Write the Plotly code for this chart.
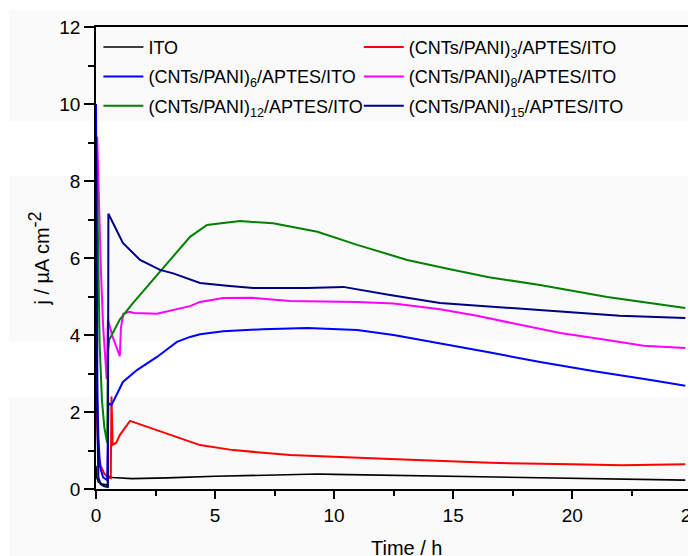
import plotly.graph_objects as go

# ---- data (time in h, current density in µA cm^-2) ----
ito_t = [0.0, 0.03, 0.1, 0.3, 0.48, 0.5, 0.7, 1.5, 3.0, 3.95, 5.0, 8.0, 9.3, 10.0, 12.0, 15.0, 17.3, 20.0, 22.0, 24.75]
ito_j = [0.6, 0.3, 0.18, 0.12, 0.1, 0.33, 0.3, 0.27, 0.29, 0.31, 0.33, 0.37, 0.39, 0.38, 0.36, 0.34, 0.31, 0.29, 0.26, 0.23]

c3_t = [0.0, 0.05, 0.1, 0.2, 0.35, 0.5, 0.62, 0.65, 0.7, 0.85, 1.0, 1.43, 2.0, 2.56, 3.95, 4.37, 5.76, 8.15, 12.35, 16.55, 20.0, 22.1, 24.75]
c3_j = [2.5, 1.5, 0.9, 0.6, 0.4, 0.3, 0.28, 2.4, 1.15, 1.2, 1.4, 1.77, 1.65, 1.53, 1.22, 1.14, 1.01, 0.88, 0.78, 0.68, 0.64, 0.62, 0.64]

c6_t = [0.0, 0.03, 0.06, 0.1, 0.17, 0.3, 0.47, 0.52, 0.65, 1.13, 1.72, 2.56, 3.4, 3.95, 4.37, 5.34, 7.0, 8.87, 10.97, 12.5, 14.45, 16.5, 18.65, 21.0, 23.3, 24.75]
c6_j = [10.0, 5.0, 2.5, 1.35, 0.57, 0.3, 0.23, 2.23, 2.18, 2.78, 3.09, 3.43, 3.82, 3.95, 4.02, 4.1, 4.15, 4.18, 4.13, 4.0, 3.79, 3.55, 3.3, 3.05, 2.83, 2.68]

c8_t = [0.05, 0.12, 0.2, 0.3, 0.45, 0.5, 0.7, 1.0, 1.05, 1.15, 1.4, 1.6, 2.56, 3.95, 4.37, 5.34, 6.5, 8.15, 10.97, 12.5, 14.45, 16.0, 17.94, 19.5, 21.47, 23.0, 24.75]
c8_j = [9.15, 7.5, 5.8, 4.2, 2.85, 4.4, 3.95, 3.45, 4.2, 4.55, 4.6, 4.57, 4.55, 4.75, 4.86, 4.96, 4.97, 4.88, 4.86, 4.82, 4.67, 4.5, 4.26, 4.05, 3.87, 3.72, 3.66]

c12_t = [0.02, 0.08, 0.15, 0.25, 0.35, 0.47, 0.5, 0.55, 1.0, 1.55, 2.56, 3.1, 3.95, 4.66, 6.05, 7.44, 9.3, 10.97, 13.07, 14.87, 16.5, 18.65, 21.47, 24.75]
c12_j = [9.15, 6.0, 3.8, 2.3, 1.6, 1.2, 3.56, 3.87, 4.4, 4.83, 5.56, 5.95, 6.55, 6.86, 6.96, 6.9, 6.68, 6.34, 5.95, 5.71, 5.5, 5.3, 4.99, 4.7]

c15_t = [0.0, 0.05, 0.1, 0.2, 0.35, 0.5, 0.52, 1.13, 1.85, 2.69, 3.24, 3.95, 4.37, 5.5, 6.6, 8.87, 10.38, 12.35, 14.45, 16.5, 18.65, 22.0, 24.75]
c15_j = [9.2, 2.0, 0.3, 0.12, 0.07, 0.05, 7.15, 6.39, 5.95, 5.69, 5.6, 5.43, 5.35, 5.28, 5.22, 5.22, 5.25, 5.04, 4.83, 4.74, 4.65, 4.5, 4.44]

series = [
    ("ITO", ito_t, ito_j, "#000000", 1.6, "legend"),
    ("(CNTs/PANI)<sub>3</sub>/APTES/ITO", c3_t, c3_j, "#ff0000", 2, "legend2"),
    ("(CNTs/PANI)<sub>6</sub>/APTES/ITO", c6_t, c6_j, "#0000ff", 2, "legend"),
    ("(CNTs/PANI)<sub>8</sub>/APTES/ITO", c8_t, c8_j, "#ff00ff", 2, "legend2"),
    ("(CNTs/PANI)<sub>12</sub>/APTES/ITO", c12_t, c12_j, "#008000", 2, "legend"),
    ("(CNTs/PANI)<sub>15</sub>/APTES/ITO", c15_t, c15_j, "#000080", 2, "legend2"),
]

FONT = "Liberation Sans, Arial, sans-serif"

fig = go.Figure()
for i, (name, t, j, col, w, lg) in enumerate(series):
    fig.add_trace(go.Scatter(x=t, y=j, mode="lines", name=name,
                             line=dict(color=col, width=w),
                             legend=lg, legendgroup=f"g{i}"))

# faint background bands seen in the reference (page pixel rows)
bands = [(10, 121), (176, 341), (397, 556)]
top, bot = 27, 489
for y0, y1 in bands:
    fig.add_shape(type="rect", xref="paper", yref="paper", layer="below",
                  x0=(9 - 96) / 600, x1=1.0,
                  y0=(bot - y1) / (bot - top), y1=(bot - y0) / (bot - top),
                  line=dict(width=0), fillcolor="#fafafa")

# x-axis title placed as in the reference (slightly right of centre)
fig.add_annotation(text="Time / h", xref="paper", yref="paper",
                   x=0.518, y=-0.0996, xanchor="center", yanchor="top",
                   showarrow=False, font=dict(family=FONT, size=20, color="#000000"))

legend_common = dict(font=dict(family=FONT, size=18, color="#000000"),
                     bgcolor="rgba(0,0,0,0)", borderwidth=0,
                     orientation="v", yanchor="top", xanchor="left",
                     tracegroupgap=3, itemwidth=40)

fig.update_layout(
    width=688, height=548,
    margin=dict(l=88, r=0, t=19, b=67, autoexpand=False),
    paper_bgcolor="#ffffff", plot_bgcolor="rgba(0,0,0,0)",
    font=dict(family=FONT, size=19, color="#000000"),
    showlegend=True,
    legend=dict(x=0.004, y=0.996, **legend_common),
    legend2=dict(x=0.438, y=0.996, **legend_common),
    xaxis=dict(range=[0, 25.2], showgrid=False, zeroline=False,
               showline=True, linecolor="#000000", linewidth=1.5, mirror=True,
               ticks="outside", ticklen=8, tickwidth=1.5, tickcolor="#000000",
               tick0=0, dtick=5, ticklabeloverflow="allow",
               minor=dict(ticks="outside", ticklen=5, tickwidth=1.5, dtick=2.5, tickcolor="#000000"),
               tickfont=dict(size=19)),
    yaxis=dict(range=[0, 12], showgrid=False, zeroline=False,
               showline=True, linecolor="#000000", linewidth=1.5, mirror=False,
               ticks="outside", ticklen=10, tickwidth=1.5, tickcolor="#000000",
               tick0=0, dtick=2,
               minor=dict(ticks="outside", ticklen=6, tickwidth=1.5, dtick=1, tickcolor="#000000"),
               tickfont=dict(size=19),
               title=dict(text="j / µA cm<sup><span style=\"font-size:18px\">-2</span></sup>",
                          font=dict(size=20), standoff=4)),
)

fig.write_html("out.html")
